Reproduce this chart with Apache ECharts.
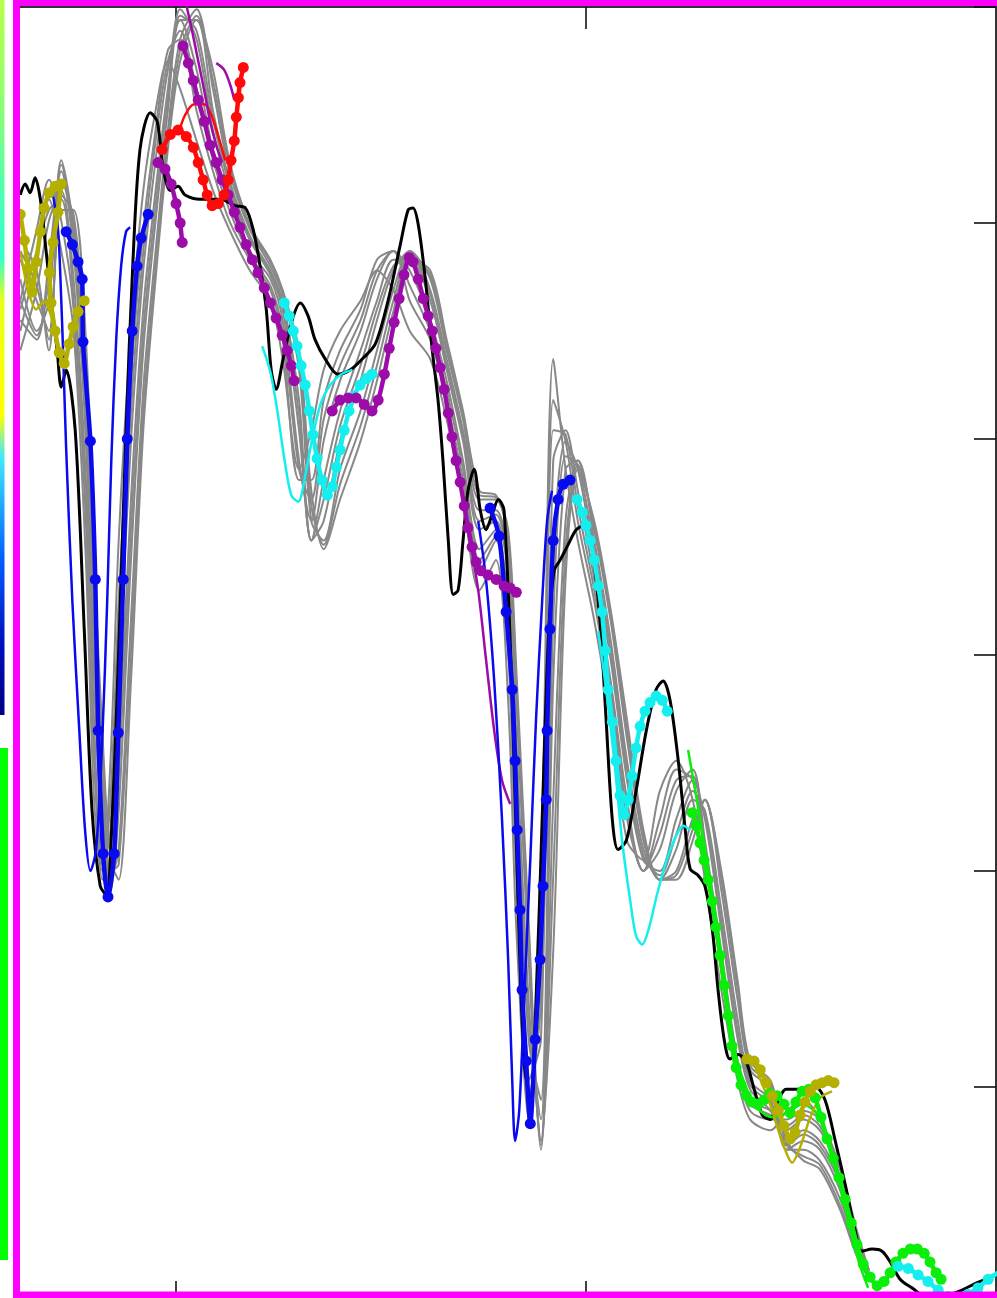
<!DOCTYPE html>
<html>
<head>
<meta charset="utf-8">
<title>Ensemble traces</title>
<script src="https://cdn.jsdelivr.net/npm/echarts@6/dist/echarts.min.js"></script>
<style>
html,body{margin:0;padding:0;background:#fff;overflow:hidden;}
#chart{width:997px;height:1298px;}
</style>
</head>
<body>
<div id="chart"></div>
<script>
// axis ticks
const xTicks = [10, 20];
const yMin = 0, yMax = 60, yStep = 10;

// ensemble members, sampled on a shared time grid
const memberX = [6.2, 6.6, 6.9, 7.2, 7.5, 7.8, 8.0, 8.2, 8.4, 8.6, 8.9, 9.2, 9.5, 9.8, 10.1, 10.5, 10.9, 11.3, 11.8, 12.3, 12.6, 13.0, 13.3, 13.6, 14.0, 14.5, 14.9, 15.3, 15.7, 16.2, 16.6, 17.0, 17.4, 17.8, 18.1, 18.3, 18.6, 18.9, 19.2, 19.5, 19.8, 20.2, 20.6, 21.0, 21.4, 21.8, 22.2, 22.6, 22.9, 23.3, 23.7, 24.0, 24.5, 24.9, 25.3, 25.7, 26.2, 26.6, 26.9];
const member1 = [45.0, 48.3, 51.1, 48.7, 45.0, 34.4, 23.3, 19.6, 25.1, 35.3, 45.0, 51.5, 55.2, 57.5, 56.2, 53.8, 51.5, 49.7, 47.8, 46.4, 43.7, 38.6, 40.4, 43.2, 45.0, 46.4, 47.8, 46.9, 45.0, 43.7, 40.9, 37.2, 33.0, 34.4, 27.9, 17.3, 8.5, 19.6, 43.7, 38.6, 35.3, 31.6, 27.0, 21.4, 20.5, 23.7, 25.1, 23.3, 19.6, 14.5, 10.3, 8.5, 8.0, 8.9, 9.4, 8.5, 5.7, 2.9, 1.5];
const member2 = [46.4, 49.7, 52.0, 50.1, 46.0, 36.2, 25.1, 20.0, 23.3, 32.5, 42.7, 49.7, 54.3, 58.0, 58.5, 55.2, 52.4, 50.1, 48.3, 46.9, 44.6, 38.1, 38.1, 41.8, 44.1, 46.0, 48.3, 48.7, 46.4, 44.6, 41.8, 38.1, 33.9, 35.3, 30.2, 19.6, 8.9, 15.9, 41.8, 39.9, 36.2, 32.5, 27.9, 22.4, 20.0, 22.4, 24.7, 24.2, 20.5, 15.4, 10.8, 8.9, 8.5, 8.5, 8.9, 8.5, 6.2, 2.9, 1.5];
const member3 = [44.1, 46.9, 50.1, 51.5, 47.4, 38.1, 27.0, 20.5, 21.0, 28.8, 39.9, 47.8, 52.9, 57.1, 59.4, 57.1, 53.4, 51.1, 48.7, 47.4, 45.5, 39.0, 36.2, 39.9, 42.7, 45.0, 47.4, 48.7, 47.8, 45.5, 42.7, 39.0, 34.9, 35.8, 32.1, 21.9, 10.3, 12.2, 39.0, 40.4, 37.6, 33.5, 28.8, 23.3, 20.0, 21.0, 23.7, 24.7, 21.4, 16.3, 11.2, 9.4, 8.9, 8.0, 8.5, 8.0, 6.2, 3.4, 1.5];
const member4 = [45.5, 44.6, 48.3, 52.4, 48.7, 39.9, 28.8, 21.9, 19.6, 25.6, 37.2, 46.0, 51.5, 56.2, 59.9, 58.5, 54.3, 51.5, 49.2, 47.6, 46.0, 40.4, 35.3, 38.1, 41.3, 44.1, 46.4, 48.3, 48.3, 46.4, 43.2, 39.9, 35.8, 36.2, 33.5, 24.2, 12.2, 9.4, 34.4, 39.9, 38.6, 34.4, 29.8, 24.2, 20.5, 20.0, 22.4, 24.2, 22.4, 17.3, 12.2, 9.9, 8.9, 7.5, 8.0, 7.5, 5.7, 2.9, 1.5];
const member5 = [47.4, 45.0, 46.4, 52.9, 49.7, 41.8, 30.7, 23.3, 19.1, 22.8, 34.4, 44.1, 50.1, 55.2, 59.4, 59.4, 55.2, 52.0, 49.4, 47.8, 46.4, 41.8, 35.3, 36.2, 39.9, 42.7, 45.5, 47.8, 48.7, 46.9, 43.7, 40.4, 36.7, 36.7, 34.4, 26.1, 14.0, 7.5, 28.8, 38.6, 39.0, 35.3, 30.7, 25.1, 21.0, 19.6, 21.0, 23.3, 22.8, 18.2, 13.1, 10.3, 9.4, 7.1, 7.5, 7.1, 5.2, 2.5, 1.5];
const member6 = [48.3, 46.4, 45.0, 52.0, 50.1, 43.2, 32.5, 24.7, 19.6, 21.0, 31.6, 42.3, 48.7, 54.3, 58.5, 59.9, 56.2, 52.4, 49.7, 48.0, 46.7, 43.2, 36.2, 35.3, 38.6, 41.3, 44.1, 46.9, 48.7, 47.4, 44.1, 40.9, 37.2, 37.2, 35.3, 27.9, 15.9, 7.1, 23.3, 36.2, 39.0, 35.8, 31.6, 26.1, 21.4, 19.6, 20.0, 22.4, 23.3, 19.1, 14.0, 10.8, 9.9, 7.1, 7.1, 6.6, 4.8, 2.5, 1.3];
const member7 = [49.2, 47.8, 44.1, 50.6, 50.6, 44.6, 34.4, 26.5, 20.5, 19.6, 28.8, 40.4, 47.4, 53.4, 57.5, 59.4, 57.1, 52.9, 49.9, 48.3, 46.9, 44.1, 37.6, 34.9, 37.2, 39.9, 42.7, 45.9, 48.3, 47.8, 44.6, 41.3, 37.6, 37.4, 35.8, 29.3, 17.7, 7.5, 16.3, 33.5, 38.6, 36.2, 32.1, 27.0, 21.9, 19.6, 19.6, 21.4, 23.3, 20.0, 14.9, 11.2, 10.3, 7.5, 6.6, 6.2, 4.3, 2.2, 1.1];
const member8 = [46.0, 48.7, 50.6, 51.1, 46.4, 37.2, 26.1, 20.3, 21.9, 30.7, 41.3, 48.7, 53.8, 57.5, 58.9, 56.2, 52.9, 50.6, 48.5, 47.1, 45.0, 38.6, 37.2, 40.9, 43.4, 45.5, 47.8, 48.7, 47.1, 45.0, 42.3, 38.6, 34.4, 35.5, 31.2, 20.7, 9.4, 14.0, 40.4, 40.2, 36.9, 33.0, 28.4, 22.8, 20.0, 21.7, 24.2, 24.4, 21.0, 15.9, 11.0, 9.2, 8.7, 8.2, 8.7, 8.2, 6.2, 3.2, 1.5];
const member9 = [46.4, 44.8, 47.4, 52.7, 49.2, 40.9, 29.8, 22.6, 19.3, 24.2, 35.8, 45.0, 50.8, 55.7, 59.6, 58.9, 54.8, 51.8, 49.3, 47.7, 46.2, 41.1, 35.3, 37.2, 40.6, 43.4, 46.0, 48.0, 48.5, 46.7, 43.4, 40.2, 36.2, 36.5, 33.9, 25.1, 13.1, 8.5, 31.6, 39.2, 38.8, 34.9, 30.2, 24.7, 20.7, 19.8, 21.7, 23.7, 22.6, 17.7, 12.6, 10.1, 9.2, 7.3, 7.8, 7.3, 5.5, 2.7, 1.5];
const member10 = [48.7, 47.1, 44.6, 51.3, 50.4, 43.9, 33.5, 25.6, 20.0, 20.3, 30.2, 41.3, 48.0, 53.8, 58.0, 59.6, 56.6, 52.7, 49.8, 48.2, 46.8, 43.7, 36.9, 35.1, 37.9, 40.6, 43.4, 46.4, 48.5, 47.6, 44.3, 41.1, 37.4, 37.3, 35.5, 28.6, 16.8, 7.3, 19.8, 34.9, 38.8, 36.0, 31.8, 26.5, 21.7, 19.6, 19.8, 21.9, 23.3, 19.6, 14.5, 11.0, 10.1, 7.3, 6.8, 6.4, 4.5, 2.3, 1.2];

// observed trace [time, value]
const observed = [[6.20,51.3],[6.32,51.8],[6.44,51.4],[6.56,52.1],[6.69,51.1],[6.83,48.7],[6.98,46.0],[7.10,44.1],[7.20,42.4],[7.32,43.2],[7.54,40.4],[7.76,31.2],[7.95,22.8],[8.15,19.3],[8.30,18.9],[8.44,22.4],[8.61,30.7],[8.78,40.4],[8.95,48.3],[9.12,53.4],[9.37,55.1],[9.54,54.7],[9.69,52.5],[9.86,51.5],[10.05,51.7],[10.22,51.3],[10.59,51.1],[11.08,51.1],[11.44,50.8],[11.69,50.7],[11.88,49.7],[12.05,48.0],[12.20,46.0],[12.32,43.2],[12.44,42.3],[12.61,43.7],[12.83,45.5],[13.03,46.3],[13.22,45.7],[13.39,44.6],[13.64,43.7],[13.95,43.0],[14.25,43.2],[14.54,43.7],[14.86,44.4],[15.17,46.4],[15.47,49.0],[15.66,50.6],[15.78,50.7],[15.91,49.9],[16.08,47.4],[16.25,44.1],[16.39,41.8],[16.51,39.0],[16.64,35.3],[16.76,32.8],[16.88,33.0],[17.00,35.3],[17.12,37.6],[17.27,38.6],[17.42,36.7],[17.56,35.8],[17.71,36.5],[17.86,37.2],[18.00,36.7],[18.20,27.9],[18.34,18.7],[18.49,11.2],[18.64,9.4],[18.78,14.0],[18.93,22.4],[19.08,30.7],[19.22,33.9],[19.37,34.4],[19.56,35.1],[19.76,35.8],[19.95,36.0],[20.15,34.9],[20.34,31.6],[20.49,27.0],[20.64,22.4],[20.78,21.0],[20.98,21.4],[21.22,23.7],[21.47,26.5],[21.71,28.4],[21.88,28.8],[22.05,27.9],[22.25,25.1],[22.42,21.9],[22.54,20.1],[22.73,19.8],[22.90,19.3],[23.08,17.3],[23.22,14.5],[23.37,12.2],[23.51,11.3],[23.71,11.5],[23.90,11.2],[24.10,9.9],[24.30,8.7],[24.49,8.5],[24.69,9.4],[24.88,9.9],[25.22,9.9],[25.59,10.0],[25.83,9.4],[26.08,7.5],[26.32,5.5],[26.56,3.4],[26.73,2.4],[26.98,2.5],[27.22,2.4],[27.42,1.9],[27.66,1.1],[27.95,0.7],[28.39,0.2],[28.88,0.4],[29.17,0.6],[29.49,0.9],[29.86,1.2],[30.05,1.4]];

// forecast runs: bold = run with markers, thin = companion run
const olive1Bold = [[6.20,50.4],[6.30,49.2],[6.39,47.9],[6.49,46.8],[6.59,48.2],[6.69,49.6],[6.78,50.7],[6.91,51.4],[7.05,51.7],[7.20,51.8],[7.12,50.5],[7.00,49.1],[6.91,47.7],[6.95,46.3],[7.05,45.0],[7.15,44.0],[7.27,43.5],[7.39,44.4],[7.49,45.2],[7.61,45.9],[7.76,46.4]];
const olive1Thin = [[6.20,48.7],[6.39,46.9],[6.59,46.0],[6.78,46.4],[6.98,45.5],[7.17,44.1],[7.32,43.7]];
const blue1Bold = [[7.32,49.6],[7.47,49.0],[7.61,48.2],[7.71,47.4],[7.73,44.5],[7.91,39.9],[8.03,33.5],[8.10,26.5],[8.22,20.8],[8.34,18.8],[8.49,20.8],[8.59,26.4],[8.71,33.5],[8.81,40.0],[8.93,45.0],[9.05,48.0],[9.15,49.3],[9.32,50.4]];
const blue1Thin = [[6.98,51.5],[7.12,49.7],[7.20,46.4],[7.25,43.7],[7.32,39.5],[7.47,32.5],[7.64,26.5],[7.78,21.9],[7.91,20.0],[8.05,21.0],[8.20,26.1],[8.32,32.5],[8.42,39.0],[8.54,44.6],[8.66,48.0],[8.78,49.6],[8.88,49.8]];
const redBold = [[9.66,53.4],[9.86,54.1],[10.05,54.3],[10.25,54.0],[10.42,53.5],[10.54,52.8],[10.66,52.0],[10.76,51.3],[10.88,50.8],[11.03,50.9],[11.17,51.3],[11.27,52.0],[11.34,52.9],[11.42,53.8],[11.47,54.9],[11.52,55.8],[11.56,56.5],[11.64,57.2]];
const redThin = [[10.05,54.1],[10.22,55.0],[10.44,55.5],[10.69,55.5],[10.88,54.9],[11.05,53.9],[11.20,52.9]];
const purple1Bold = [[10.17,58.2],[10.30,57.4],[10.42,56.6],[10.54,55.7],[10.69,54.7],[10.83,53.6],[10.98,52.8],[11.12,52.0],[11.27,51.3],[11.42,50.5],[11.56,49.8],[11.71,49.0],[11.86,48.3],[12.00,47.7],[12.15,47.0],[12.30,46.3],[12.44,45.6],[12.59,44.8],[12.71,44.1],[12.81,43.4],[12.88,42.7]];
const purple1Branch = [[9.56,52.8],[9.73,52.5],[9.88,51.8],[10.00,50.9],[10.10,50.0],[10.15,49.1]];
const purple1Thin = [[10.25,60.1],[10.39,58.9],[10.54,57.5],[10.69,56.1],[10.83,54.7],[10.98,53.6],[11.12,52.8]];
const purple1Tail = [[10.98,57.4],[11.17,57.1],[11.32,56.4],[11.42,55.7]];
const cyan1Bold = [[12.64,46.3],[12.76,45.7],[12.86,45.0],[12.95,44.3],[13.05,43.4],[13.15,42.5],[13.25,41.3],[13.34,40.2],[13.44,39.1],[13.56,38.1],[13.69,37.4],[13.81,37.8],[13.91,38.7],[14.00,39.5],[14.10,40.4],[14.22,41.3],[14.34,42.0],[14.49,42.5],[14.64,42.8],[14.78,43.0]];
const cyan1Thin = [[12.10,44.3],[12.30,43.1],[12.47,41.3],[12.64,39.1],[12.81,37.4],[12.98,37.1],[13.15,38.3],[13.34,40.2],[13.54,41.7],[13.76,42.5],[14.03,43.0],[14.30,43.2]];
const purple2Bold = [[13.81,41.3],[14.00,41.8],[14.20,41.9],[14.39,41.9],[14.59,41.6],[14.78,41.3],[14.93,41.8],[15.08,43.0],[15.20,44.2],[15.32,45.4],[15.44,46.5],[15.56,47.6],[15.69,48.4],[15.78,48.2],[15.91,47.4],[16.03,46.5],[16.15,45.7],[16.25,45.0],[16.34,44.2],[16.44,43.3],[16.54,42.3],[16.64,41.2],[16.73,40.1],[16.83,39.0],[16.93,38.0],[17.03,36.9],[17.12,35.9],[17.22,35.0],[17.32,34.3],[17.44,33.9],[17.61,33.7],[17.81,33.5],[18.00,33.2],[18.15,33.1],[18.30,32.9]];
const purple2Thin = [[16.98,37.4],[17.17,35.3],[17.37,33.0],[17.56,29.8],[17.76,26.5],[17.95,24.2],[18.15,23.1]];
const blue2Bold = [[17.66,36.8],[17.88,35.5],[18.05,32.0],[18.20,28.4],[18.27,25.1],[18.32,21.9],[18.39,18.2],[18.44,14.5],[18.54,11.2],[18.64,8.3],[18.76,12.2],[18.88,15.9],[18.95,19.3],[19.03,23.3],[19.05,26.5],[19.12,31.2],[19.20,35.3],[19.32,37.2],[19.44,37.9],[19.61,38.1]];
const blue2Thin = [[17.37,36.2],[17.56,33.5],[17.76,28.8],[17.95,22.4],[18.10,15.9],[18.20,10.3],[18.27,7.5],[18.37,8.9],[18.49,14.0],[18.64,20.5],[18.78,27.0],[18.93,32.5],[19.05,36.2],[19.17,37.6]];
const cyan2Bold = [[19.78,37.2],[19.91,36.6],[20.00,36.0],[20.10,35.3],[20.20,34.4],[20.30,33.2],[20.39,32.0],[20.47,30.2],[20.54,28.4],[20.64,26.9],[20.73,25.1],[20.83,23.5],[20.93,22.6],[21.03,23.3],[21.12,24.4],[21.22,25.7],[21.32,26.7],[21.44,27.4],[21.56,27.8],[21.71,28.1],[21.86,27.9],[21.98,27.4]];
const cyan2Thin = [[20.30,31.1],[20.49,28.4],[20.69,25.1],[20.88,21.4],[21.08,18.6],[21.22,17.0],[21.37,16.6],[21.54,17.4],[21.73,18.9],[21.95,20.4],[22.17,21.5],[22.37,22.1],[22.54,21.9]];
const greenBold = [[22.59,22.7],[22.69,22.1],[22.78,21.3],[22.88,20.5],[22.98,19.6],[23.08,18.6],[23.17,17.4],[23.27,16.1],[23.37,14.7],[23.47,13.3],[23.56,11.9],[23.66,10.9],[23.78,10.1],[23.91,9.6],[24.05,9.3],[24.20,9.2],[24.34,9.4],[24.49,9.7],[24.66,9.6],[24.83,9.2],[24.98,8.8],[25.12,9.3],[25.27,9.8],[25.44,9.9],[25.59,9.5],[25.73,8.6],[25.88,7.6],[26.03,6.7],[26.17,5.8],[26.32,4.8],[26.47,3.7],[26.61,2.7],[26.76,1.8],[26.93,1.2],[27.10,0.8],[27.27,1.0],[27.42,1.4],[27.56,1.9],[27.73,2.3],[27.91,2.5],[28.08,2.5],[28.25,2.3],[28.39,1.9],[28.54,1.4],[28.66,1.1]];
const greenThin = [[22.49,25.6],[22.61,24.3],[22.73,23.0],[22.90,21.0],[23.12,18.4],[23.37,15.2],[23.61,11.9],[23.88,10.1],[24.20,9.0],[24.54,8.6],[24.91,8.8],[25.27,9.2],[25.66,8.7],[26.00,7.0],[26.34,4.3],[26.64,2.0],[26.88,0.7]];
const olive2Bold = [[23.93,11.3],[24.10,11.2],[24.25,10.8],[24.39,10.2],[24.54,9.6],[24.69,8.9],[24.83,8.2],[24.98,7.6],[25.10,7.9],[25.22,8.7],[25.34,9.3],[25.47,9.8],[25.61,10.1],[25.76,10.2],[25.91,10.3],[26.05,10.2]];
const olive2Thin = [[24.20,10.6],[24.49,9.2],[24.78,7.5],[25.03,6.5],[25.22,7.2],[25.47,8.6],[25.71,9.5],[26.00,9.8]];
const cyan3Bold = [[27.61,1.7],[27.86,1.6],[28.10,1.3],[28.34,1.0],[28.59,0.6],[28.83,0.3],[29.08,0.2],[29.32,0.4],[29.56,0.7],[29.81,1.1],[30.05,1.4]];

const C = {
  member: '#888888',
  observed: '#000000',
  olive: '#b4b000',
  blue: '#0a0aee',
  red: '#ff0a0a',
  purple: '#9c0ca8',
  cyan: '#14eeee',
  green: '#0aee0a'
};

function thin(data, color, width, z) {
  return {
    type: 'line', data: data, smooth: 0.3, showSymbol: false, silent: true,
    lineStyle: { color: color, width: width }, itemStyle: { color: color }, z: z
  };
}
function bold(data, color, size) {
  return {
    type: 'line', data: data, smooth: 0.25, showSymbol: true, showAllSymbol: true,
    symbol: 'circle', symbolSize: size || 11, silent: true,
    lineStyle: { color: color, width: 4.5 }, itemStyle: { color: color }, z: 6
  };
}

const members = [member1, member2, member3, member4, member5, member6, member7, member8, member9, member10];
const series = [];
members.forEach(function (m) {
  series.push(thin(memberX.map(function (x, i) { return [x, m[i]]; }), C.member, 2, 2));
});
series.push(thin(observed, C.observed, 3, 3));
[
  [olive1Thin, C.olive], [blue1Thin, C.blue], [redThin, C.red], [purple1Thin, C.purple],
  [purple1Tail, C.purple], [cyan1Thin, C.cyan], [purple2Thin, C.purple], [blue2Thin, C.blue],
  [cyan2Thin, C.cyan], [greenThin, C.green], [olive2Thin, C.olive]
].forEach(function (p) { series.push(thin(p[0], p[1], 2.5, 4)); });
[
  [olive1Bold, C.olive], [blue1Bold, C.blue], [purple1Bold, C.purple], [purple1Branch, C.purple],
  [redBold, C.red], [cyan1Bold, C.cyan], [purple2Bold, C.purple], [blue2Bold, C.blue],
  [cyan2Bold, C.cyan], [greenBold, C.green], [olive2Bold, C.olive], [cyan3Bold, C.cyan]
].forEach(function (p) { series.push(bold(p[0], p[1])); });

function xAxisDef(position) {
  return {
    type: 'value', position: position, min: 6.12, max: 30,
    axisLine: { show: true, onZero: false, lineStyle: { color: '#333', width: 2 } },
    axisTick: { show: true, inside: true, length: 22, customValues: xTicks, lineStyle: { color: '#111', width: 1.6 } },
    axisLabel: { show: false }, splitLine: { show: false }
  };
}

const chart = echarts.init(document.getElementById('chart'), null, { renderer: 'canvas' });
chart.setOption({
  animation: false,
  backgroundColor: '#ffffff',
  grid: { left: 17, right: 1, top: 7, bottom: -5, containLabel: false, outerBoundsMode: 'none' },
  xAxis: [xAxisDef('top'), xAxisDef('bottom')],
  yAxis: {
    type: 'value', position: 'right', min: yMin, max: yMax, interval: yStep,
    axisLine: { show: true, onZero: false, lineStyle: { color: '#333', width: 2 } },
    axisTick: { show: true, inside: true, length: 22, lineStyle: { color: '#111', width: 1.6 } },
    axisLabel: { show: false }, splitLine: { show: false }
  },
  series: series,
  graphic: [
    {
      type: 'rect', z: 100, silent: true,
      shape: { x: 0, y: 0, width: 4.5, height: 715 },
      style: {
        fill: {
          type: 'linear', x: 0, y: 0, x2: 0, y2: 1,
          colorStops: [
            { offset: 0, color: '#b8ff48' }, { offset: 0.15, color: '#8cff74' },
            { offset: 0.28, color: '#48ffb8' }, { offset: 0.36, color: '#30ffd0' },
            { offset: 0.42, color: '#e8ff18' }, { offset: 0.58, color: '#ffff00' },
            { offset: 0.64, color: '#40e8ff' }, { offset: 0.78, color: '#0060ff' },
            { offset: 0.9, color: '#0010c0' }, { offset: 1, color: '#000080' }
          ]
        }
      }
    },
    {
      type: 'rect', z: 100, silent: true,
      shape: { x: -200, y: 752, width: 204, height: 504 },
      style: { fill: 'none', stroke: '#00ff00', lineWidth: 8 }
    },
    {
      type: 'rect', z: 100, silent: true,
      shape: { x: 16.5, y: 2.5, width: 1000, height: 1292.5 },
      style: { fill: 'none', stroke: '#ff00ff', lineWidth: 7 }
    }
  ]
});
</script>
</body>
</html>
